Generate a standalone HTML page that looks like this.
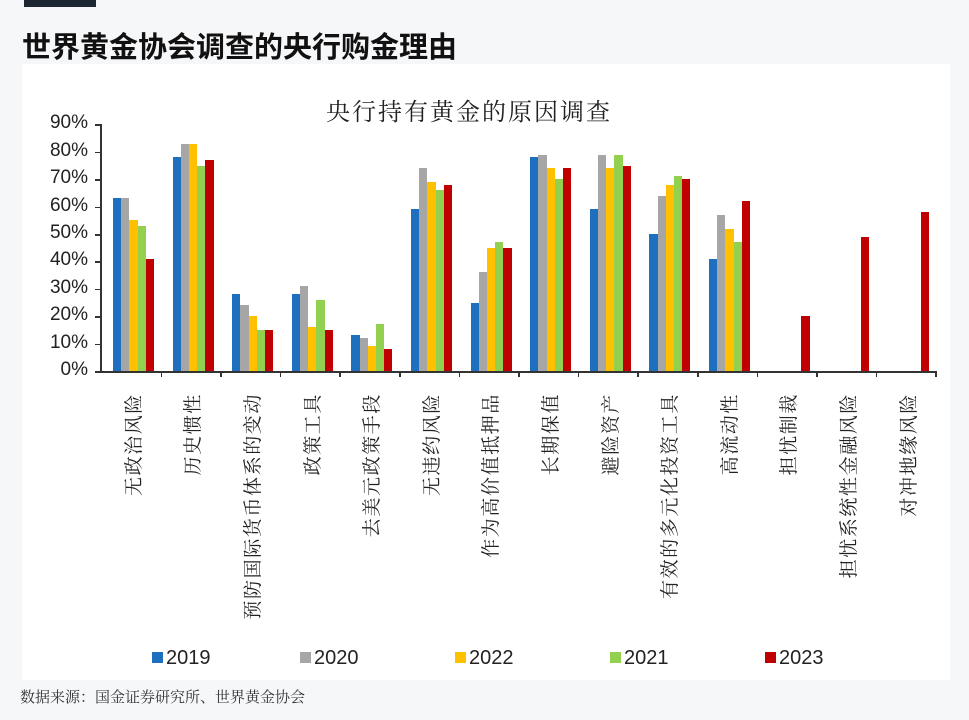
<!DOCTYPE html>
<html><head><meta charset="utf-8"><style>
body{margin:0;width:969px;height:720px;background:#f6f7f9;position:relative;overflow:hidden;font-family:"Liberation Sans","Noto Sans CJK SC",sans-serif}
.bar{position:absolute}
.lab{position:absolute;top:393px;white-space:nowrap;font-family:"Noto Serif CJK SC","Liberation Serif",serif;font-size:19px;color:#222;letter-spacing:1.6px;transform-origin:0 0;transform:rotate(-90deg) translate(-100%,-50%);line-height:22px}
.yl{position:absolute;left:40px;width:48px;text-align:right;font-size:19px;color:#222}
.lg{position:absolute;top:647px;font-size:20px;color:#222}
.sq{position:absolute;top:652px;width:11px;height:11px}
</style></head><body>
<div style="position:absolute;left:24px;top:0;width:72px;height:7px;background:#1c2733"></div>
<div style="position:absolute;left:22px;top:24px;font-size:29px;font-weight:bold;color:#111;font-family:'Noto Sans CJK SC',sans-serif">世界黄金协会调查的央行购金理由</div>
<div style="position:absolute;left:22px;top:64px;width:928px;height:616px;background:#fff"></div>
<div style="position:absolute;left:326px;top:92px;font-size:24px;font-family:'Noto Serif CJK SC',serif;color:#222;letter-spacing:2px">央行持有黄金的原因调查</div>
<div id="c"></div>
<div style="position:absolute;left:20px;top:686px;font-size:15px;color:#333;font-family:'Noto Serif CJK SC',serif">数据来源：国金证券研究所、世界黄金协会</div>
<script>
var d=[[63,63,55,53,41],[78,83,83,75,77],[28,24,20,15,15],[28,31,16,26,15],[13,12,9,17,8],[59,74,69,66,68],[25,36,45,47,45],[78,79,74,70,74],[59,79,74,79,75],[50,64,68,71,70],[41,57,52,47,62],[0,0,0,0,20],[0,0,0,0,49],[0,0,0,0,58]];
var labs=["无政治风险","历史惯性","预防国际货币体系的变动","政策工具","去美元政策手段","无违约风险","作为高价值抵押品","长期保值","避险资产","有效的多元化投资工具","高流动性","担忧制裁","担忧系统性金融风险","对冲地缘风险"];
var col=["#1f6fbf","#a6a6a6","#ffc000","#92d050","#c00000"];
var h="",x0=101,w=59.6,y0=371,s=2.74;
h+='<div class="bar" style="left:100px;top:124px;width:1.5px;height:248px;background:#333"></div>';
h+='<div class="bar" style="left:100px;top:371px;width:837px;height:1.5px;background:#333"></div>';
for(var i=0;i<=9;i++){var y=y0-i*10*s;h+='<div class="bar" style="left:95px;top:'+y+'px;width:6px;height:1.5px;background:#333"></div>';h+='<div class="yl" style="top:'+(y-12)+'px">'+(i*10)+'%</div>';}
for(var i=0;i<14;i++){var cx=x0+w*i;
h+='<div class="bar" style="left:'+(cx+w)+'px;top:371px;width:1.5px;height:6px;background:#333"></div>';
for(var k=0;k<5;k++){var v=d[i][k];if(!v)continue;h+='<div class="bar" style="left:'+(cx+12+k*8.2)+'px;top:'+(y0-v*s)+'px;width:8.3px;height:'+(v*s)+'px;background:'+col[k]+'"></div>';}
h+='<div class="lab" style="left:'+(cx+w/2+2)+'px">'+labs[i]+'</div>';}
var lx=[152,300,455,610,765],ln=["2019","2020","2022","2021","2023"];
for(var k=0;k<5;k++){h+='<div class="sq" style="left:'+lx[k]+'px;background:'+col[k]+'"></div><div class="lg" style="left:'+(lx[k]+14)+'px">'+ln[k]+'</div>';}
document.getElementById("c").innerHTML=h;
</script>
</body></html>
